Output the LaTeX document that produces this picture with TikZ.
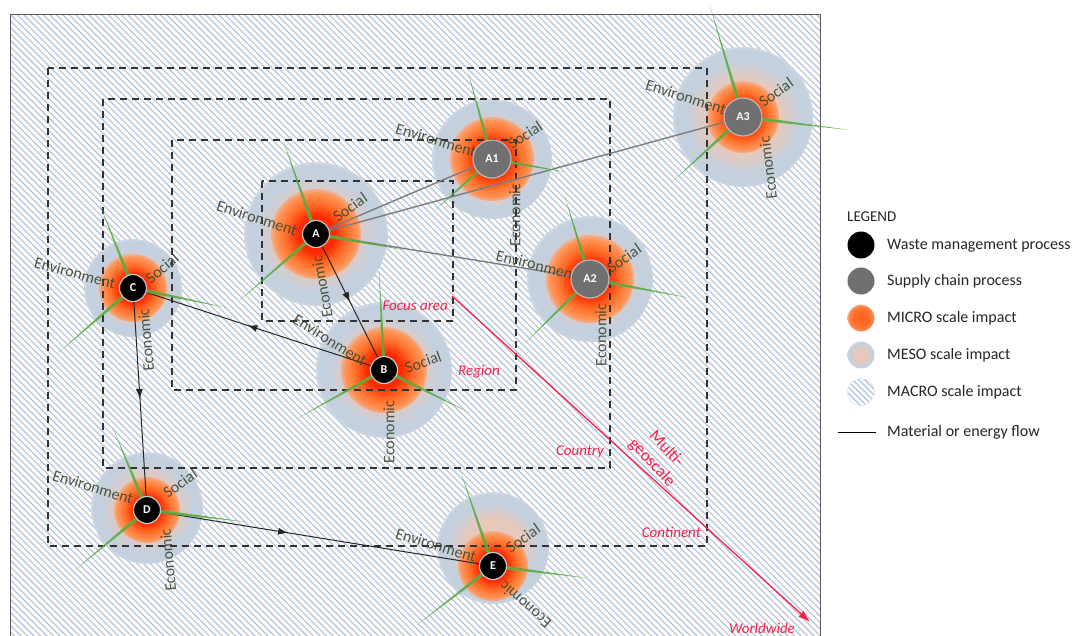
\documentclass[tikz,border=0pt]{standalone}
\usepackage{fontspec}
\setmainfont{Carlito}
\usetikzlibrary{arrows.meta, calc, decorations.markings}

\definecolor{microcore}{RGB}{255,40,0}
\definecolor{micromid}{RGB}{255,110,40}
\definecolor{microedge}{RGB}{255,150,90}
\definecolor{microfade}{RGB}{236,178,150}
\definecolor{mesocol}{RGB}{197,208,222}
\definecolor{mesoin}{RGB}{232,200,186}
\definecolor{hatchblue}{RGB}{172,194,228}
\definecolor{hatchgray}{RGB}{198,200,206}
\definecolor{framecol}{RGB}{90,90,95}
\definecolor{supplygray}{RGB}{112,112,114}
\definecolor{linkgray}{RGB}{125,125,128}
\definecolor{spokegreen}{RGB}{90,172,66}
\definecolor{lblcol}{RGB}{62,74,54}
\definecolor{geored}{RGB}{245,35,75}

\pgfdeclareradialshading{microshade}{\pgfpoint{0bp}{0bp}}{color(0bp)=(microcore); color(10bp)=(microcore); color(17bp)=(micromid); color(23bp)=(microedge); color(25bp)=(microfade); color(50bp)=(microfade)}
\pgfdeclareradialshading{mesoshade}{\pgfpoint{0bp}{0bp}}{color(0bp)=(mesoin); color(13bp)=(mesoin); color(20bp)=(mesocol); color(24bp)=(mesocol); color(25bp)=(mesocol!80!white); color(50bp)=(mesocol!80!white)}
\pgfdeclareradialshading{legmicro}{\pgfpoint{0bp}{0bp}}{color(0bp)=(micromid!75!microcore); color(14bp)=(micromid); color(23bp)=(micromid!85!white); color(25bp)=(micromid!50!white); color(50bp)=(micromid!50!white)}

\pgfdeclarelayer{back}
\pgfsetlayers{back,main}

\tikzset{
  waste/.style={circle, fill=black, draw=black!22, line width=1.2pt, minimum size=27pt,
    inner sep=0pt, text=white, font=\fontsize{12}{12}\selectfont\bfseries},
  supply/.style={waste, fill=supplygray, draw=black!28, minimum size=38pt},
  lbl/.style={text=lblcol, text opacity=0.92, font=\fontsize{16}{16}\selectfont, inner sep=0pt},
  geo/.style={text=geored, font=\fontsize{15}{15}\selectfont\itshape, inner sep=0pt},
  zone/.style={black!80, line width=1.3pt, dash pattern=on 7pt off 5pt},
  link/.style={draw=linkgray, line width=1.4pt},
  flow/.style={draw=black!85, line width=1pt, postaction={decorate},
    decoration={markings, mark=at position #1 with {\arrow{Latex[length=10pt,width=7pt]}}}},
  spoke/.style={fill=spokegreen, opacity=0.9},
  legtext/.style={anchor=west, font=\fontsize{16}{16}\selectfont, text=black!85,
    inner sep=0pt, text height=11pt, text depth=3pt}
}

\begin{document}
\begin{tikzpicture}[x=1pt, y=-1pt]
    \useasboundingbox (0,0) rectangle (1075,635);

    % Processi
    \node[waste] (A) at (316,234) {A};
    \node[supply] (A1) at (492,159) {A1};
    \node[supply] (A2) at (590,279) {A2};
    \node[supply] (A3) at (743,117) {A3};
    \node[waste] (B) at (384,370) {B};
    \node[waste] (C) at (133,288) {C};
    \node[waste] (D) at (147,510) {D};
    \node[waste] (E) at (493,566) {E};

    \begin{pgfonlayer}{back}
    % Sfondo tratteggiato (scala macro)
    \begin{scope}
        \clip (10,14) rectangle (820,640);
        \foreach \i in {-640,-627,...,820} {
            \draw[hatchblue, line width=1.2pt] (\i,14) -- ++(630,630);
            \draw[hatchgray, line width=1.2pt] (\i+6.5,14) -- ++(630,630);
        }
    \end{scope}
    \draw[framecol, line width=1pt] (10,14) rectangle (820,640);

    % Impatti meso e micro
    \foreach \n/\x/\y/\mi/\me/\dy in {A/316/234/45/72/0, A1/492/159/42/60/0, A3/743/117/36/70/0,
        A2/590/279/44/63/0, C/133/288/34/49/0, B/384/370/43/68/0, D/147/510/33/56/-2, E/493/566/35/56/-18} {
        \shade[shading=mesoshade] (\x,\y+\dy) circle (\me pt);
        \shade[shading=microshade] (\x,\y) circle (\mi pt);
    }

    % Aree geografiche
    \draw[zone] (48,68) rectangle (707,546);
    \draw[zone] (103,99) rectangle (610,468);
    \draw[zone] (172,140) rectangle (516,390);
    \draw[zone] (262,181) rectangle (453,321);

    % Freccia multi-scala
    \coordinate (ws0) at (452,296);
    \coordinate (ws1) at (810,622);
    \draw[geored, line width=1.3pt, -{Latex[length=12pt,width=8pt]}] (ws0) -- (ws1);

    % Catena di fornitura
    \draw[link] (A) -- (A1);
    \draw[link] (A) -- (A3);
    \draw[link] (A) -- (A2);

    % Flussi di materia o energia
    \draw[flow=0.5] (A) -- (B);
    \draw[flow=0.55] (B) -- (C);
    \draw[flow=0.5] (C) -- (D);
    \draw[flow=0.4] (D) -- (E);

    % Raggi verdi
    \foreach \n/\ex/\ey in {A/283/140, A/405/250, A/240/300, A1/468/72, A1/565/172, A1/435/210,
        A3/710/6, A3/850/130, A3/672/182, A2/565/197, A2/690/298, A2/525/343,
        C/100/205, C/228/308, C/58/353, B/379/270, B/470/413, B/298/418,
        D/113/428, D/247/522, D/75/570, E/460/470, E/587/578, E/417/625} {
        \fill[spoke] ($(\n.center)!2pt!90:(\ex,\ey)$) -- (\ex,\ey) -- ($(\n.center)!2pt!-90:(\ex,\ey)$) -- cycle;
    }

    % Etichette delle dimensioni
    \foreach \x/\y/\r/\t [count=\k] in {257/218/-18/Environment, 350/207/35/Social, 322/287/100/Economic,
        436/140/-17/Environment, 525/135/33/Social, 515/215/90/Economic,
        686/97/-18/Environment, 776/92/35/Social, 768/168/97/Economic,
        537/265/-14/Environment, 624/258/35/Social, 601/335/90/Economic,
        75/273/-15/Environment, 162/268/40/Social, 146/340/95/Economic,
        330/340/-32/Environment, 423/362/20/Social, 389/432/90/Economic,
        93/487/-17/Environment, 180/483/35/Social, 168/560/95/Economic,
        436/545/-17/Environment, 523/538/35/Social, 525/605/139/Economic} {
        \node[lbl, rotate=\r] (lab\k) at (\x,\y) {\t};
    }

    % Scale geografiche
    \node[geo, anchor=east] (focus) at (448,306) {Focus area};
    \node[geo, anchor=east] (region) at (500,372) {Region};
    \node[geo, anchor=east] (country) at (604,452) {Country};
    \node[geo, anchor=east] (continent) at (701,532) {Continent};
    \node[geo] (worldwide) at (762,628) {Worldwide};
    \node[text=geored, font=\fontsize{17}{20}\selectfont, align=center, rotate=-47, inner sep=0pt] (multi) at (659,456) {Multi-\\geoscale};
    \end{pgfonlayer}

    % Legenda
    \node[anchor=west, font=\fontsize{15}{15}\selectfont, text=black!85, inner sep=0pt] (legtitle) at (847,217) {LEGEND};
    \node[waste, minimum size=27pt, draw=none] (lgwaste) at (861,245) {};
    \node[circle, fill=supplygray, minimum size=27pt] (lgsupply) at (861,281) {};
    \node[circle, shade, shading=legmicro, minimum size=27pt] (lgmicro) at (861,318) {};
    \node[circle, shade, shading=mesoshade, minimum size=27pt] (lgmeso) at (861,355) {};
    \node[circle, draw=hatchgray!50, line width=0.6pt, minimum size=27pt] (lgmacro) at (861,392) {};
    \begin{pgfonlayer}{back}
    \begin{scope}
        \clip (lgmacro.center) circle (13.5pt);
        \foreach \k in {-36,-30,...,30} {
            \draw[hatchblue, line width=1.4pt] ($(lgmacro.center)+(\k,-16)$) -- ++(32,32);
        }
    \end{scope}
    \end{pgfonlayer}
    \coordinate (lf0) at (838,432);
    \coordinate (lf1) at (876,432);
    \draw[black, line width=1pt] (lf0) -- (lf1);
    \node[legtext] (lt1) at (887,245) {Waste management process};
    \node[legtext] (lt2) at (887,281) {Supply chain process};
    \node[legtext] (lt3) at (887,318) {MICRO scale impact};
    \node[legtext] (lt4) at (887,355) {MESO scale impact};
    \node[legtext] (lt5) at (887,392) {MACRO scale impact};
    \node[legtext] (lt6) at (887,432) {Material or energy flow};
\end{tikzpicture}
\end{document}
